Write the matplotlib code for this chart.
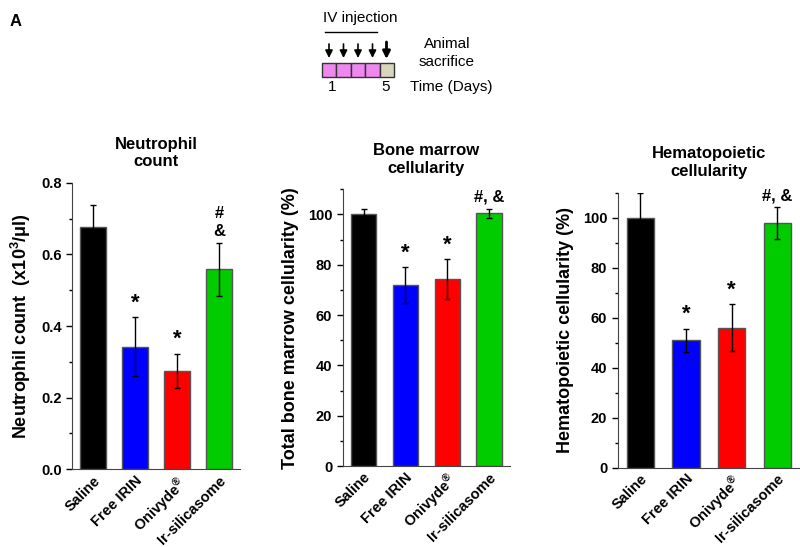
import matplotlib.pyplot as plt
from matplotlib.patches import Rectangle

plt.rcParams['font.family'] = ['Liberation Sans', 'DejaVu Sans']
plt.rcParams['font.weight'] = 'bold'
plt.rcParams['mathtext.fontset'] = 'custom'
plt.rcParams['mathtext.rm'] = 'Liberation Sans:bold'
plt.rcParams['mathtext.bf'] = 'Liberation Sans:bold'
plt.rcParams['mathtext.it'] = 'Liberation Sans:bold'
plt.rcParams['mathtext.default'] = 'bf'

groups = ['Saline', 'Free IRIN', 'Onivyde$^{®}$', 'Ir-silicasome']
colors = ['#000000', '#0000ff', '#ff0000', '#00cc00']

neut = [0.675, 0.342, 0.275, 0.558]
neut_err = [0.064, 0.082, 0.048, 0.074]
neut_marks = ['', '*', '*', '#\n&']

bm = [100.0, 71.8, 74.2, 100.5]
bm_err = [2.2, 7.2, 8.0, 1.8]
bm_marks = ['', '*', '*', '#, &']

hem = [100.0, 50.9, 56.0, 97.9]
hem_err = [9.8, 4.6, 9.3, 6.3]
hem_marks = ['', '*', '*', '#, &']

days = [1, 5]

fig = plt.figure(figsize=(8, 5.47), dpi=100)


def panel(rect, vals, errs, marks, ylim, major, minor, title, ylabel, fmt, mark_gap):
    ax = fig.add_axes(rect)
    x = range(len(vals))
    ax.bar(x, vals, width=0.6, color=colors, edgecolor='#555555', linewidth=1,
           yerr=errs, error_kw=dict(ecolor='black', elinewidth=1, capsize=2.5, capthick=1))
    for i, (v, e, m) in enumerate(zip(vals, errs, marks)):
        if m:
            ax.text(i, v + e + mark_gap, m, ha='center', va='bottom',
                    fontsize=16 if m == '*' else 12, fontweight='bold', linespacing=1.3)
    ax.set_xlim(-0.5, 3.5)
    ax.set_ylim(*ylim)
    ax.set_yticks(major)
    ax.set_yticks(minor, minor=True)
    ax.set_yticklabels([fmt.format(t) for t in major], fontsize=10.5, fontweight='bold')
    ax.set_xticks(list(x))
    ax.set_xticklabels(groups, rotation=45, ha='right', rotation_mode='anchor',
                       fontsize=10.5, fontweight='bold')
    ax.tick_params(axis='x', length=0, pad=3)
    ax.tick_params(axis='y', which='major', length=4, width=1)
    ax.tick_params(axis='y', which='minor', length=2.5, width=1)
    for s in ['top', 'right']:
        ax.spines[s].set_visible(False)
    ax.spines['left'].set_color('#444444')
    ax.spines['bottom'].set_color('#444444')
    ax.set_ylabel(ylabel, fontsize=13, fontweight='bold')
    ax.set_title(title, fontsize=12, fontweight='bold', pad=12)
    return ax


a1 = panel([0.09, 0.142, 0.21, 0.524], neut, neut_err, neut_marks, (0, 0.8),
           [0.0, 0.2, 0.4, 0.6, 0.8], [0.1, 0.3, 0.5, 0.7], 'Neutrophil\ncount',
           'Neutrophil count  (x10$^{3}$/μl)', '{:.1f}', 0.01)
a2 = panel([0.4284, 0.148, 0.209, 0.506], bm, bm_err, bm_marks, (0, 110),
           [0, 20, 40, 60, 80, 100], [10, 30, 50, 70, 90, 110], 'Bone marrow\ncellularity',
           'Total bone marrow cellularity (%)', '{:d}', 1.5)
a3 = panel([0.772, 0.145, 0.228, 0.503], hem, hem_err, hem_marks, (0, 110),
           [0, 20, 40, 60, 80, 100], [10, 30, 50, 70, 90, 110], 'Hematopoietic\ncellularity',
           'Hematopoietic cellularity (%)', '{:d}', 1.5)
a1.yaxis.labelpad = 6
a2.yaxis.labelpad = 6
a3.yaxis.labelpad = 6

fig.text(0.012, 0.975, 'A', fontsize=12, fontweight='bold', va='top')

# dosing schedule inset
ins = fig.add_axes([0, 0, 1, 1])
ins.set_xlim(0, 800)
ins.set_ylim(547, 0)
ins.axis('off')
ins.patch.set_alpha(0)
box_w = 14.5
for k in range(5):
    fc = '#ee88ee' if k < 4 else '#d9d5bd'
    ins.add_patch(Rectangle((321.7 + k * box_w, 63), box_w, 14, facecolor=fc,
                            edgecolor='#333333', linewidth=1))
    if k < 4:
        ins.annotate('', xy=(329 + k * box_w, 58), xytext=(329 + k * box_w, 44),
                     arrowprops=dict(arrowstyle='-|>', color='black', lw=1.2,
                                     mutation_scale=11, shrinkA=0, shrinkB=0))
ins.annotate('', xy=(386.5, 59), xytext=(386.5, 42),
             arrowprops=dict(arrowstyle='-|>', color='black', lw=2,
                             mutation_scale=11, shrinkA=0, shrinkB=0))
ins.plot([325, 377], [32, 32], color='black', lw=1)
ins.text(360, 18, 'IV injection', ha='center', va='center', fontsize=11, fontweight='normal')
ins.text(447, 53, 'Animal\nsacrifice', ha='center', va='center', fontsize=11,
         fontweight='normal', linespacing=1.3)
for d, xx in zip(days, [332, 386]):
    ins.text(xx, 87, str(d), ha='center', va='center', fontsize=11, fontweight='normal')
ins.text(410, 87, 'Time (Days)', ha='left', va='center', fontsize=11, fontweight='normal')

fig.savefig('out.png', dpi=100)
